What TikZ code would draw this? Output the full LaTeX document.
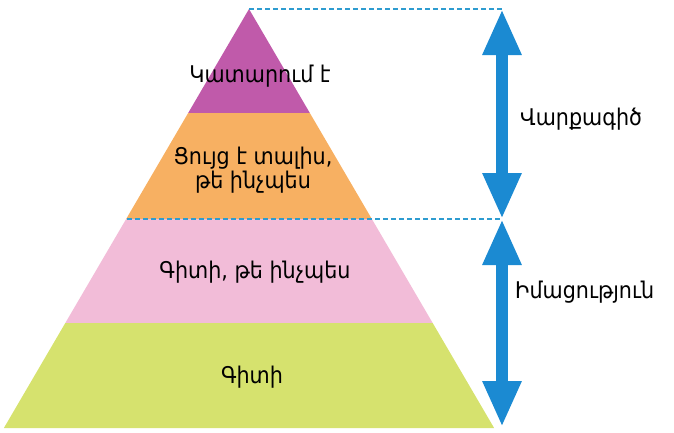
\documentclass[tikz,border=0pt]{standalone}
\usepackage{fontspec}
\setmainfont[FakeStretch=0.9]{DejaVu Sans}
\usetikzlibrary{arrows.meta}

\definecolor{lvlpurple}{RGB}{192,90,170}
\definecolor{lvlorange}{RGB}{247,176,98}
\definecolor{lvlpink}{RGB}{242,188,216}
\definecolor{lvlgreen}{RGB}{214,226,110}
\definecolor{arrowblue}{RGB}{27,138,210}
\definecolor{guideblue}{RGB}{46,156,208}

\begin{document}
\begin{tikzpicture}[x=1pt,y=-1pt,
    lbl/.style={font=\fontsize{23}{22}\selectfont,align=center,inner sep=0pt,anchor=base},
    guide/.style={draw=guideblue,line width=1.8pt,dash pattern=on 5pt off 3pt},
    bigarrow/.style={draw=arrowblue,line width=12pt,
      {Triangle[length=46pt,width=36pt]}-{Triangle[length=46pt,width=36pt]}}]
    \useasboundingbox (0,0) rectangle (674,432);
    % pyramid layers
    \foreach \ya/\yb/\col in {9/113/lvlpurple,113/219/lvlorange,219/323/lvlpink,323/428/lvlgreen} {
      \fill[\col] ({249-0.585*(\ya-9)},\ya) -- ({249+0.585*(\ya-9)},\ya)
        -- ({249+0.585*(\yb-9)},\yb) -- ({249-0.585*(\yb-9)},\yb) -- cycle;
    }
    \coordinate (apex) at (249,9);
    \coordinate (topend) at (502,9);
    \coordinate (midleft) at (127,219);
    \coordinate (midend) at (502,219);
    \coordinate (baseend) at (502,427);
    \draw[guide] (apex) -- (topend);
    \draw[guide] (midleft) -- (midend);
    \draw[bigarrow] (topend) -- (midend);
    \draw[bigarrow] (midend) -- (baseend);
    % texts
    \node[lbl] (does) at (260,82) {Կատարում է};
    \node[lbl] (shows) at (253,188) {Ցույց է տալիս,\\թե ինչպես};
    \node[lbl] (knowshow) at (255,278) {Գիտի, թե ինչպես};
    \node[lbl] (knows) at (252,383) {Գիտի};
    \node[lbl,anchor=base west] (behav) at (520,125) {Վարքագիծ};
    \node[lbl,anchor=base west] (cogn) at (515,298) {Իմացություն};
\end{tikzpicture}
\end{document}
